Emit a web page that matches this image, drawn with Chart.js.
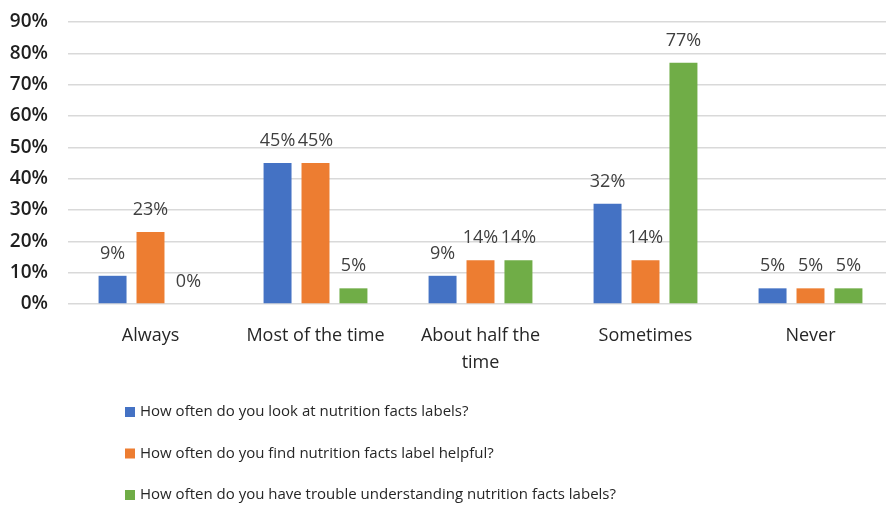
<!DOCTYPE html>
<html>
<head>
<meta charset="utf-8">
<script src="https://cdn.jsdelivr.net/npm/chart.js@4"></script>
<style>
    html, body { margin: 0; padding: 0; background: #fff; overflow: hidden; }
    #wrap { position: relative; width: 896px; height: 505px; }
</style>
</head>
<body>
<div id="wrap"><canvas id="barChart"></canvas></div>
<script>
"use strict";
var categories = ['Always', 'Most of the time', ['About half the', 'time'], 'Sometimes', 'Never'];
var lookAtLabels = [9, 45, 9, 32, 5];
var findHelpful = [23, 45, 14, 14, 5];
var troubleUnderstanding = [0, 5, 14, 77, 5];
var yTicks = [0, 10, 20, 30, 40, 50, 60, 70, 80, 90];
var seriesNames = [
    'How often do you look at nutrition facts labels?',
    'How often do you find nutrition facts label helpful?',
    'How often do you have trouble understanding nutrition facts labels?'
];

var fontFamily = '"Open Sans", "Liberation Sans", sans-serif';

// value labels above each bar
var valueLabels = {
    id: 'valueLabels',
    afterDatasetsDraw: function(chart) {
        var ctx = chart.ctx;
        ctx.save();
        ctx.font = '18px ' + fontFamily;
        ctx.fillStyle = '#404040';
        ctx.textAlign = 'center';
        ctx.textBaseline = 'middle';
        chart.data.datasets.forEach(function(ds, i) {
            chart.getDatasetMeta(i).data.forEach(function(bar, j) {
                ctx.fillText(ds.data[j] + '%', bar.x, bar.y - 22);
            });
        });
        ctx.restore();
    }
};

// vertical legend under the axis
var stackedLegend = {
    id: 'stackedLegend',
    afterDraw: function(chart) {
        var ctx = chart.ctx;
        var top = chart.chartArea.bottom + 108;
        ctx.save();
        ctx.font = '15px ' + fontFamily;
        ctx.textBaseline = 'middle';
        ctx.textAlign = 'left';
        chart.data.datasets.forEach(function(ds, i) {
            var y = top + i * 41.5;
            ctx.fillStyle = ds.backgroundColor;
            ctx.fillRect(125, y - 5, 10, 10);
            ctx.fillStyle = '#262626';
            ctx.fillText(ds.label, 140, y);
        });
        ctx.restore();
    }
};

new Chart(document.getElementById('barChart').getContext('2d'), {
    type: 'bar',
    data: {
        labels: categories,
        datasets: [
            { label: seriesNames[0], data: lookAtLabels, backgroundColor: '#4472C4' },
            { label: seriesNames[1], data: findHelpful, backgroundColor: '#ED7D31' },
            { label: seriesNames[2], data: troubleUnderstanding, backgroundColor: '#70AD47' }
        ]
    },
    options: {
        responsive: true,
        maintainAspectRatio: false,
        animation: false,
        layout: { padding: { top: 22, right: 3, bottom: 121, left: 0 } },
        datasets: { bar: { barPercentage: 0.737, categoryPercentage: 0.69 } },
        plugins: {
            legend: { display: false },
            tooltip: { enabled: false }
        },
        scales: {
            x: {
                grid: { display: false, drawTicks: false },
                border: { display: false },
                ticks: {
                    color: '#262626',
                    font: { family: fontFamily, size: 18, lineHeight: 1.5 },
                    padding: 18,
                    maxRotation: 0,
                    autoSkip: false
                },
                afterFit: function(scale) {
                    scale.height = 80;
                    scale.paddingTop = 0;
                    scale.paddingBottom = 0;
                }
            },
            y: {
                min: 0,
                max: 90,
                afterBuildTicks: function(scale) {
                    scale.ticks = yTicks.map(function(v) { return { value: v }; });
                },
                grid: { color: '#d9d9d9', lineWidth: 1.5, drawTicks: false },
                border: { display: false },
                ticks: {
                    color: '#1f1f1f',
                    font: { family: fontFamily, size: 19, weight: '600' },
                    padding: 20,
                    callback: function(v) { return v + '%'; }
                },
                afterFit: function(scale) {
                    scale.width = 68;
                    scale.paddingTop = 0;
                    scale.paddingBottom = 0;
                }
            }
        }
    },
    plugins: [valueLabels, stackedLegend]
});
</script>
</body>
</html>
